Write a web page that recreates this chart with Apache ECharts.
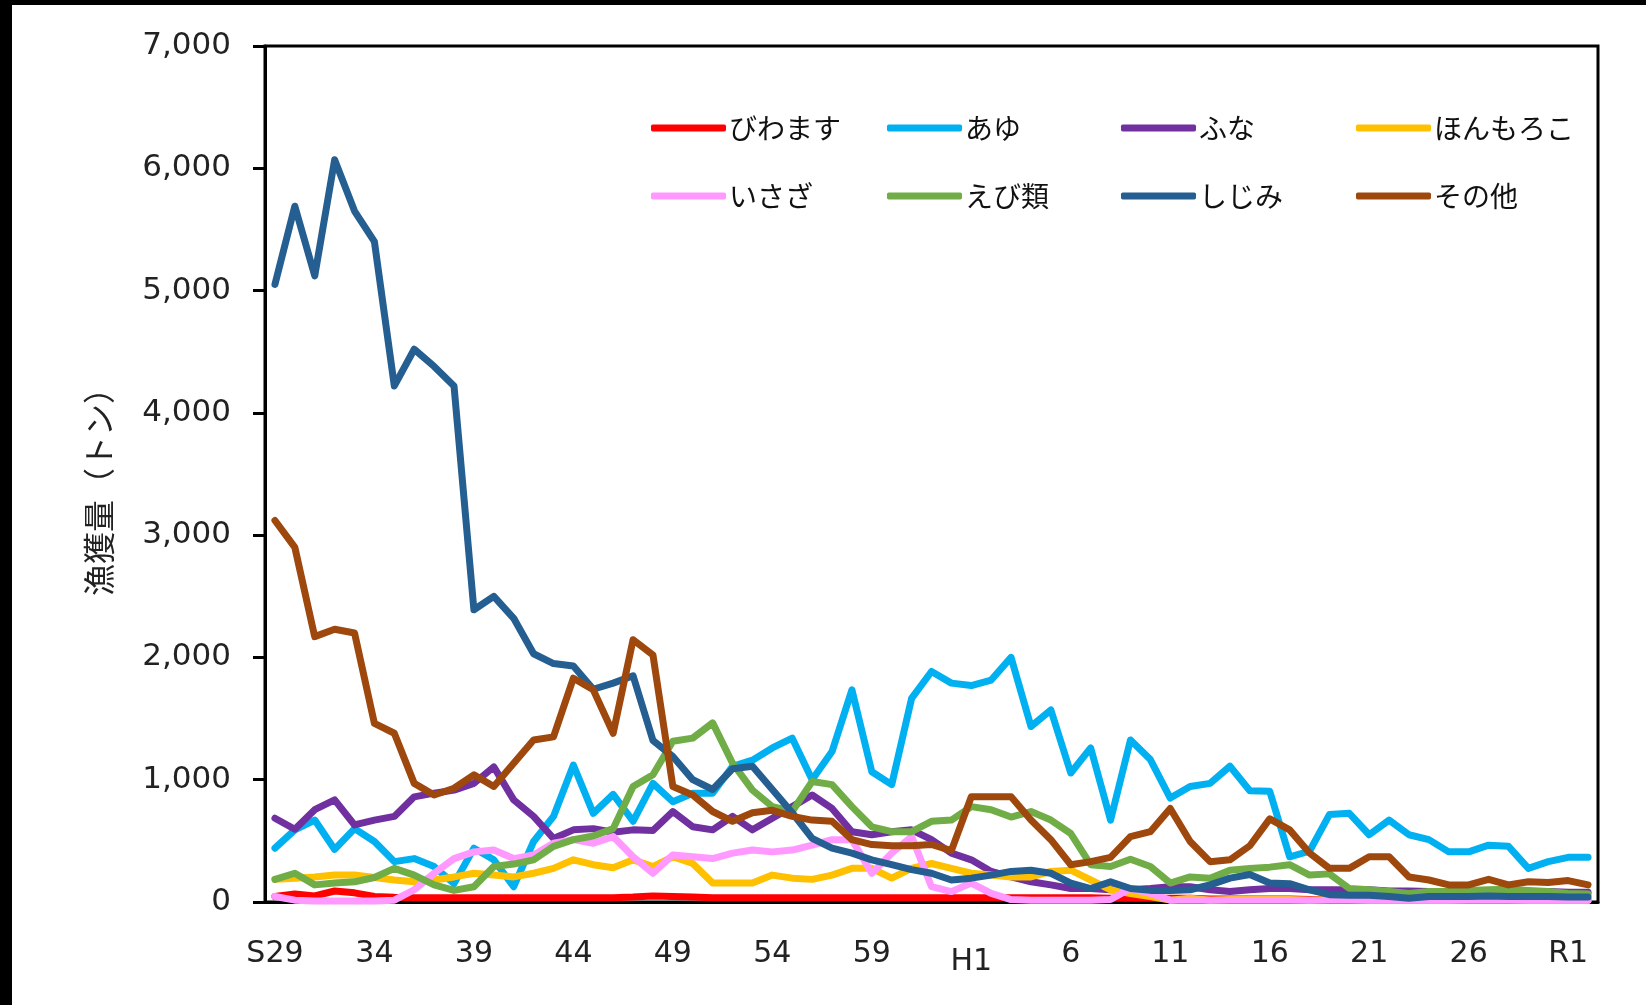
<!DOCTYPE html>
<html><head><meta charset="utf-8">
<script src="https://cdn.jsdelivr.net/npm/echarts@6/dist/echarts.min.js"></script>
<style>
html,body{margin:0;padding:0;background:#000;width:1646px;height:1005px;overflow:hidden}
#wrap{position:absolute;left:12px;top:5px;right:0;bottom:0;background:#fff}
#c{position:absolute;left:-12px;top:-5px;width:1646px;height:1005px}
</style></head>
<body><div id="wrap"><div id="c"></div></div>
<script>
const categories = ['S29','30','31','32','33','34','35','36','37','38','39','40','41','42','43','44','45','46','47','48','49','50','51','52','53','54','55','56','57','58','59','60','61','62','63','H1','2','3','4','5','6','7','8','9','10','11','12','13','14','15','16','17','18','19','20','21','22','23','24','25','26','27','28','29','30','R1','2'];
const yTicks = [0,1000,2000,3000,4000,5000,6000,7000];

const biwamasu = [45,65,50,90,75,45,38,35,35,35,35,35,35,35,35,35,35,35,40,50,45,40,35,35,35,35,35,35,35,35,35,35,35,35,35,35,35,35,35,35,35,35,30,30,30,30,30,25,25,25,25,25,20,20,20,20,20,20,15,15,15,15,15,15,15,15,15];
const ayu = [440,590,670,430,600,495,330,355,290,150,440,345,125,495,700,1120,725,880,660,970,820,890,890,1110,1160,1260,1340,1000,1230,1735,1065,960,1665,1885,1790,1770,1815,2000,1435,1570,1055,1260,670,1325,1165,850,945,970,1110,910,905,370,415,715,725,550,670,550,510,410,410,465,455,275,330,365,365];
const funa = [685,595,755,835,630,670,700,860,890,915,970,1105,835,700,520,590,600,570,590,585,740,615,590,700,590,685,780,875,765,575,550,575,590,510,400,345,250,205,165,140,110,110,100,100,110,125,125,100,85,100,110,110,100,100,100,100,90,90,85,85,85,85,85,85,85,80,80];
const honmoroko = [185,195,205,220,220,200,180,165,180,205,235,220,205,235,275,345,305,280,345,290,370,315,155,155,155,220,195,185,220,275,275,195,275,315,275,235,220,205,205,250,260,180,100,70,45,15,30,15,20,20,20,20,15,20,20,15,15,15,15,15,20,20,20,15,15,15,15];
const isaza = [45,15,8,8,8,8,15,100,235,355,410,425,355,385,480,510,480,535,370,235,385,370,355,400,425,410,425,465,510,510,235,400,535,125,85,155,70,20,15,15,15,15,20,110,70,15,15,15,15,15,15,15,15,15,15,15,15,15,15,15,15,15,15,15,15,15,15];
const ebirui = [185,235,140,155,165,200,275,220,140,95,125,290,310,345,455,510,540,600,945,1040,1315,1340,1465,1135,915,780,740,985,960,780,615,575,575,660,670,780,755,695,740,670,560,305,290,350,290,155,205,195,260,275,285,305,220,230,110,100,85,70,85,85,95,100,105,95,85,70,65];
const shijimi = [5050,5690,5120,6070,5650,5400,4220,4520,4380,4220,2390,2500,2320,2030,1950,1930,1740,1790,1850,1320,1190,1000,920,1090,1110,920,730,520,440,400,345,305,265,235,180,195,220,250,260,235,155,110,165,110,95,95,100,140,195,225,155,150,100,60,55,55,45,30,45,45,45,50,45,45,45,40,40];
const sonota = [3120,2900,2170,2230,2200,1460,1380,970,875,930,1040,945,1135,1325,1350,1830,1735,1380,2145,2020,945,875,740,660,730,750,700,670,660,510,470,460,460,470,420,860,860,860,670,510,305,330,365,535,575,765,495,330,345,460,680,590,400,275,275,370,370,205,180,140,140,185,140,165,160,175,140];

const seriesNames = ['びわます','あゆ','ふな','ほんもろこ','いさざ','えび類','しじみ','その他'];
const seriesData = [biwamasu, ayu, funa, honmoroko, isaza, ebirui, shijimi, sonota];
const seriesColors = ['#FF0000','#00B0F0','#7030A0','#FFC000','#FF99FF','#70AD47','#255E91','#9E480E'];

const legendPos = [[651,114],[887,114],[1121,114],[1356,114],[651,182],[887,182],[1121,182],[1356,182]];

const chart = echarts.init(document.getElementById('c'), null, {renderer:'canvas'});
const numFont = 'DejaVu Sans';
const jpFont = 'Noto Sans CJK JP';

const option = {
  backgroundColor: 'transparent',
  animation: false,
  grid: {left: 265, right: 48, top: 46, bottom: 103, show: true, borderColor: '#000', borderWidth: 3, backgroundColor: 'transparent'},
  legend: seriesNames.map((n, i) => ({
    data: [n], left: legendPos[i][0], top: legendPos[i][1], padding: 0,
    itemWidth: 75, itemHeight: 7, itemGap: 0, icon: 'roundRect',
    textStyle: {fontFamily: jpFont, fontSize: 28, color: '#111', padding: [0,0,0,-2]}
  })),
  xAxis: {
    type: 'category', data: categories, boundaryGap: true,
    axisLine: {lineStyle: {color: '#000', width: 3}},
    axisTick: {show: false},
    axisLabel: {
      interval: 4, margin: 37, color: '#222', fontFamily: numFont, fontSize: 30,
      formatter: v => v === 'H1' ? '{h|H1}' : v,
      rich: {h: {fontFamily: numFont, fontSize: 30, color: '#222', padding: [8,0,0,0]}}
    },
    splitLine: {show: false}
  },
  yAxis: {
    type: 'value', min: yTicks[0], max: yTicks[yTicks.length-1], interval: 1000,
    name: '漁獲量（トン）', nameLocation: 'middle', nameRotate: 90, nameGap: 150,
    nameTextStyle: {fontFamily: jpFont, fontSize: 32, color: '#222', padding: [0,0,0,-20]},
    axisLine: {show: true, lineStyle: {color: '#000', width: 3}},
    axisTick: {show: true, inside: false, length: 12, lineStyle: {color: '#000', width: 3}},
    axisLabel: {margin: 34, color: '#222', fontFamily: numFont, fontSize: 31,
      formatter: v => v.toLocaleString('en-US')},
    splitLine: {show: false}
  },
  series: seriesNames.map((n, i) => ({
    name: n, type: 'line', data: seriesData[i], symbol: 'none', smooth: false,
    lineStyle: {color: seriesColors[i], width: 7, cap: 'round', join: 'round'},
    itemStyle: {color: seriesColors[i]}
  }))
};
chart.setOption(option);
</script>
</body></html>
